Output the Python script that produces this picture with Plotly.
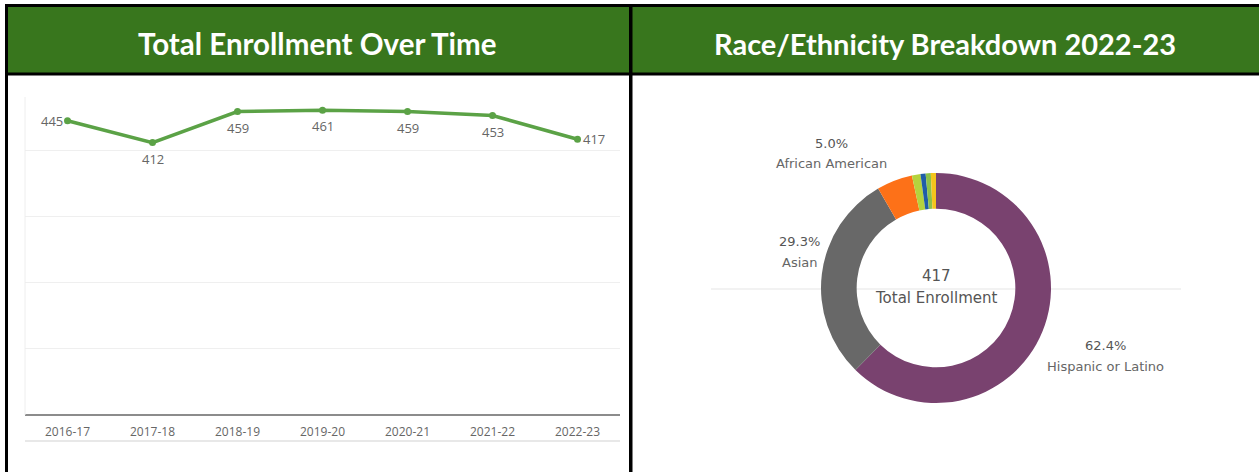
import plotly.graph_objects as go

# ---------------- data ----------------
years = ["2016-17", "2017-18", "2018-19", "2019-20", "2020-21", "2021-22", "2022-23"]
enrollment = [445, 412, 459, 461, 459, 453, 417]

groups = ["Hispanic or Latino", "Asian", "African American", "Filipino",
          "White", "Two or More Races", "Not Reported"]
group_counts = [260, 122, 21, 5, 3, 3, 3]
group_colors = ["#79426f", "#686868", "#fd7118", "#b5d33d", "#1f5ea8", "#8cc24a", "#f4c51c"]
labeled_groups = ["African American", "Asian", "Hispanic or Latino"]

titles = ["Total Enrollment Over Time", "Race/Ethnicity Breakdown 2022-23"]
center_title = "Total Enrollment"

# ---------------- geometry helpers ----------------
W, H = 1259, 472


def px(x):
    return x / W


def py(y):
    return 1 - y / H


GREEN = "#38761d"
TEXT = "#555555"
LINE_GREEN = "#5ba246"

fig = go.Figure()

# ---- line chart ----
fig.add_trace(go.Scatter(
    x=years, y=enrollment, mode="lines+markers",
    line=dict(color=LINE_GREEN, width=3.5),
    marker=dict(color=LINE_GREEN, size=7),
    cliponaxis=False, hoverinfo="x+y", showlegend=False,
))

# ---- donut ----
total = sum(group_counts)
cx, cy, r = 936, 288, 115
fig.add_trace(go.Pie(
    labels=groups, values=group_counts, hole=0.69, sort=False,
    direction="clockwise", rotation=0,
    marker=dict(colors=group_colors, line=dict(width=0)),
    textinfo="none", showlegend=False,
    domain=dict(x=[px(cx - r), px(cx + r)], y=[py(cy + r), py(cy - r)]),
))

fig.update_layout(
    width=W, height=H, margin=dict(l=0, r=0, t=0, b=0),
    paper_bgcolor="white", plot_bgcolor="white",
    font=dict(family="Open Sans", color=TEXT),
    xaxis=dict(domain=[px(25), px(620)], type="category", range=[-0.5, len(years) - 0.5],
               showgrid=False, showline=False, zeroline=False, ticks="",
               tickfont=dict(family="Open Sans", size=12, color="#666666"), ticklabelstandoff=8),
    yaxis=dict(domain=[py(415), py(97)], range=[0, 481], showticklabels=False,
               showgrid=True, gridcolor="#efefef", gridwidth=1, dtick=100,
               zeroline=True, zerolinecolor="#8c8c8c", zerolinewidth=2, showline=False),
)

shapes = []
shapes.append(dict(type="line", xref="paper", yref="paper", x0=px(25), x1=px(25), y0=py(415), y1=py(97),
                   line=dict(color="#eeeeee", width=1)))
shapes.append(dict(type="line", xref="paper", yref="paper", x0=px(25), x1=px(620), y0=py(441), y1=py(441),
                   line=dict(color="#e8e8e8", width=2)))
shapes.append(dict(type="line", xref="paper", yref="paper", x0=px(711), x1=px(1181), y0=py(289), y1=py(289),
                   line=dict(color="#eeeeee", width=1.5), layer="below"))
shapes.append(dict(type="rect", xref="paper", yref="paper", x0=px(6), x1=1, y0=py(74), y1=py(5),
                   fillcolor=GREEN, line=dict(width=0)))
for (x0, y0, x1, y1) in [(5, 4, W, 7), (5, 72.5, W, 75.5), (5, 4, 8, H), (629, 4, 632.5, H)]:
    shapes.append(dict(type="rect", xref="paper", yref="paper", x0=px(x0), x1=px(x1), y0=py(y1), y1=py(y0),
                       fillcolor="black", line=dict(width=0)))
fig.update_layout(shapes=shapes)

ann = []
# data labels on the line
for i, (yr, v) in enumerate(zip(years, enrollment)):
    if i == 0:
        xs, ys = -16, 0
    elif i == len(years) - 1:
        xs, ys = 16, 0
    else:
        xs, ys = 0, -16
    ann.append(dict(text=str(v), x=yr, y=v, xref="x", yref="y", showarrow=False,
                    xshift=xs, yshift=ys, xanchor="center", yanchor="middle",
                    font=dict(family="Open Sans", size=13, color="#666666")))
ann.append(dict(text=f"<b>{titles[0]}</b>", x=px(318), y=py(44), xref="paper", yref="paper",
                showarrow=False, font=dict(family="Lato", size=29.5, color="white"),
                xanchor="center", yanchor="middle"))
ann.append(dict(text=f"<b>{titles[1]}</b>", x=px(945), y=py(44), xref="paper", yref="paper",
                showarrow=False, font=dict(family="Lato", size=29, color="white"),
                xanchor="center", yanchor="middle"))
# donut center
ann.append(dict(text=str(total), x=px(cx), y=py(276), xref="paper", yref="paper",
                showarrow=False, font=dict(family="DejaVu Sans", size=15, color=TEXT),
                xanchor="center", yanchor="middle"))
ann.append(dict(text=center_title, x=px(cx), y=py(298), xref="paper", yref="paper",
                showarrow=False, font=dict(family="DejaVu Sans", size=15, color=TEXT),
                xanchor="center", yanchor="middle"))
# slice labels
label_xy = {"African American": (831, 143), "Asian": (799, 241), "Hispanic or Latino": (1105, 345)}
for g in labeled_groups:
    pct = group_counts[groups.index(g)] / total * 100
    x, y = label_xy[g]
    ann.append(dict(text=f"{pct:.1f}%", x=px(x), y=py(y), xref="paper", yref="paper",
                    showarrow=False, font=dict(family="DejaVu Sans", size=13, color=TEXT),
                    xanchor="center", yanchor="middle"))
    ann.append(dict(text=g, x=px(x), y=py(y + 21), xref="paper", yref="paper",
                    showarrow=False, font=dict(family="DejaVu Sans", size=13, color="#666666"),
                    xanchor="center", yanchor="middle"))
fig.update_layout(annotations=ann)

fig.write_html("out.html", config={"displayModeBar": False},
               post_script="document.body.style.margin='0';document.body.style.overflow='hidden';")
